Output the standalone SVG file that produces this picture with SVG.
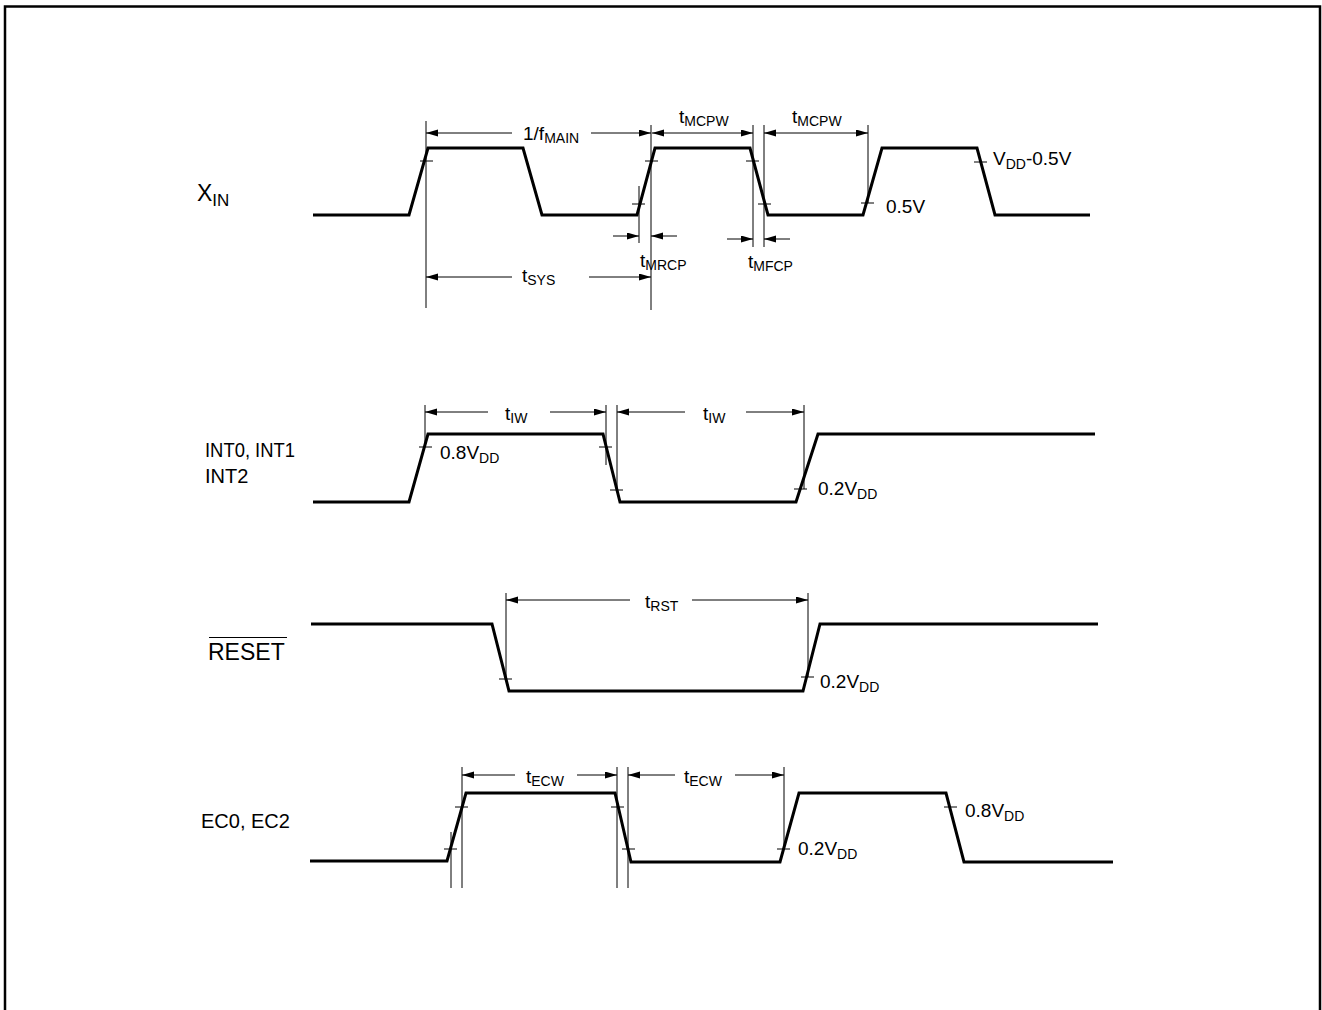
<svg xmlns="http://www.w3.org/2000/svg" width="1322" height="1010" viewBox="0 0 1322 1010">
<style>
text{font-family:"Liberation Sans",Arial,sans-serif;font-size:19px;fill:#000}
.lbl{font-size:20px}
.sub{font-size:14px}
.wave{fill:none;stroke:#000;stroke-width:3;stroke-linejoin:miter}
.thin{fill:none;stroke:#000;stroke-width:1}
.arr{fill:none;stroke:#000;stroke-width:1;marker-end:url(#ah)}
.arr2{fill:none;stroke:#000;stroke-width:1;marker-start:url(#ah);marker-end:url(#ah)}
</style>
<defs>
<marker id="ah" markerUnits="userSpaceOnUse" markerWidth="13" markerHeight="8" refX="12" refY="3.5" orient="auto-start-reverse">
<path d="M0,0 L12,3.5 L0,7 z" fill="#000"/>
</marker>
</defs>
<rect width="1322" height="1010" fill="#fff"/>
<path d="M5,1010 V6.5 H1320 V1010" fill="none" stroke="#000" stroke-width="2.5"/>

<g id="xin">
<text x="197" y="201" style="font-size:23px">X<tspan dy="5" style="font-size:17px">IN</tspan></text>
<path class="wave" d="M313,215 H409 L428,148 H523 L542,215 H637 L655,148 H750 L768,215 H863 L882,148 H977 L995,215 H1090"/>
<path class="thin" d="M420,161 H433 M645,161 H658 M632,204 H645 M746,161 H759 M758,204 H771 M861,203 H874 M974,162 H987"/>
<path class="thin" d="M426,121 V308 M651,125 V310 M639,186 V243 M753,125 V247 M764,125 V247 M868,125 V203"/>
<text x="980" y="165" dx="13">V<tspan class="sub" dy="4">DD</tspan><tspan dy="-4">-0.5V</tspan></text>
<text x="886" y="213">0.5V</text>
</g>

<g id="int">
<text class="lbl" x="205" y="457" textLength="90" lengthAdjust="spacingAndGlyphs">INT0, INT1</text>
<text class="lbl" x="205" y="483">INT2</text>
<path class="wave" d="M313,502 H409 L428,434 H603 L620,502 H796 L818,434 H1095"/>
<path class="thin" d="M419,447 H432 M599,447 H612 M610,490 H623 M794,489 H807"/>
<path class="thin" d="M425,405 V447 M606,405 V465 M617,405 V490 M804,405 V489"/>
<text x="440" y="459">0.8V<tspan class="sub" dy="4">DD</tspan></text>
<text x="818" y="495">0.2V<tspan class="sub" dy="4">DD</tspan></text>
</g>

<g id="reset">
<text x="208" y="660" style="font-size:23px">RESET</text>
<path class="thin" d="M209,637.5 H287" stroke-width="1.5"/>
<path class="wave" d="M311,624 H492 L509,691 H803 L820,624 H1098"/>
<path class="thin" d="M499,679 H512 M801,677 H814"/>
<path class="thin" d="M506,593 V679 M808,593 V677"/>
<text x="820" y="688">0.2V<tspan class="sub" dy="4">DD</tspan></text>
</g>

<g id="ec">
<text class="lbl" x="201" y="828">EC0, EC2</text>
<path class="wave" d="M310,861 H447 L466,793 H615 L631,862 H780 L799,793 H946 L964,862 H1113"/>
<path class="thin" d="M455,807 H468 M444,849 H457 M611,807 H624 M622,849 H635 M777,849 H790 M944,807 H957"/>
<path class="thin" d="M451,832 V888 M462,767 V888 M617,767 V888 M628,767 V888 M784,767 V849"/>
<text x="798" y="855">0.2V<tspan class="sub" dy="4">DD</tspan></text>
<text x="965" y="817">0.8V<tspan class="sub" dy="4">DD</tspan></text>
</g>

<g id="connectors">
<line class="arr" x1="512" y1="133" x2="426" y2="133"/>
<line class="arr" x1="591" y1="133" x2="651" y2="133"/>
<text x="523" y="140">1/f<tspan class="sub" dy="3">MAIN</tspan></text>
<line class="arr2" x1="652" y1="133" x2="753" y2="133"/>
<text x="679" y="123">t<tspan class="sub" dy="3">MCPW</tspan></text>
<line class="arr2" x1="764" y1="133" x2="868" y2="133"/>
<text x="792" y="123">t<tspan class="sub" dy="3">MCPW</tspan></text>
<line class="arr" x1="613" y1="236" x2="639" y2="236"/>
<line class="arr" x1="677" y1="236" x2="651" y2="236"/>
<text x="640" y="267">t<tspan class="sub" dy="3">MRCP</tspan></text>
<line class="arr" x1="727" y1="239" x2="753" y2="239"/>
<line class="arr" x1="790" y1="239" x2="764" y2="239"/>
<text x="748" y="268">t<tspan class="sub" dy="3">MFCP</tspan></text>
<line class="arr" x1="512" y1="277" x2="426" y2="277"/>
<line class="arr" x1="589" y1="277" x2="651" y2="277"/>
<text x="522" y="282">t<tspan class="sub" dy="3">SYS</tspan></text>
<line class="arr" x1="488" y1="412" x2="425" y2="412"/>
<line class="arr" x1="550" y1="412" x2="606" y2="412"/>
<text x="505" y="420">t<tspan class="sub" dy="3">IW</tspan></text>
<line class="arr" x1="685" y1="412" x2="617" y2="412"/>
<line class="arr" x1="746" y1="412" x2="804" y2="412"/>
<text x="703" y="420">t<tspan class="sub" dy="3">IW</tspan></text>
<line class="arr" x1="630" y1="600" x2="506" y2="600"/>
<line class="arr" x1="692" y1="600" x2="808" y2="600"/>
<text x="645" y="608">t<tspan class="sub" dy="3">RST</tspan></text>
<line class="arr" x1="515" y1="775" x2="462" y2="775"/>
<line class="arr" x1="577" y1="775" x2="617" y2="775"/>
<text x="526" y="783">t<tspan class="sub" dy="3">ECW</tspan></text>
<line class="arr" x1="675" y1="775" x2="628" y2="775"/>
<line class="arr" x1="735" y1="775" x2="784" y2="775"/>
<text x="684" y="783">t<tspan class="sub" dy="3">ECW</tspan></text>
</g>
</svg>
